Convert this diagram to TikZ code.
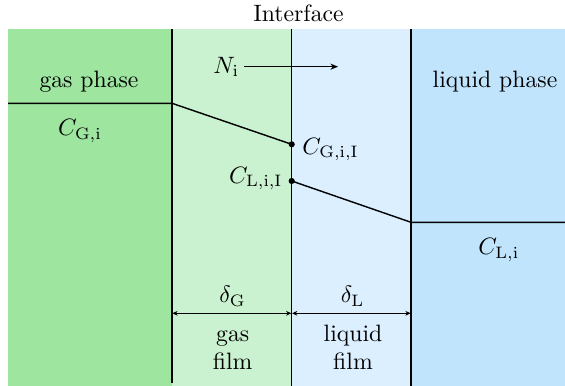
\documentclass[tikz,border=0pt]{standalone}
\usetikzlibrary{arrows.meta}
\definecolor{gasphase}{RGB}{158,230,160}
\definecolor{gasfilm}{RGB}{202,242,208}
\definecolor{liqfilm}{RGB}{220,239,255}
\definecolor{liqphase}{RGB}{192,228,252}
\tikzset{
  lbl/.style={inner sep=0pt, anchor=base},
  divider/.style={line width=0.55pt},
  profile/.style={line width=0.6pt},
  dimarrow/.style={line width=0.45pt, {Stealth[length=2.2pt,width=2pt]}-{Stealth[length=2.2pt,width=2pt]}},
  fluxarrow/.style={line width=0.6pt, -{Stealth[length=3.2pt,width=2.6pt]}},
}
\begin{document}
\begin{tikzpicture}[x=0.422pt, y=-0.422pt]
\useasboundingbox (0,0) rectangle (565,386);
% backgrounds
\fill[gasphase] (8,29) rectangle (172,386);
\fill[gasfilm] (172,29) rectangle (291.7,386);
\fill[liqfilm] (291.7,29) rectangle (411,386);
\fill[liqphase] (411,29) rectangle (565,386);
% dividers
\coordinate (d1t) at (172,29);
\coordinate (d1b) at (172,383.5);
\coordinate (d2t) at (291.7,29);
\coordinate (d2b) at (291.7,386);
\coordinate (d3t) at (411,29);
\coordinate (d3b) at (411,386);
\draw[divider] (d1t) -- (d1b);
\draw[divider] (d2t) -- (d2b);
\draw[divider] (d3t) -- (d3b);
% concentration profile
\coordinate (gA) at (8,103.3);
\coordinate (gB) at (172,103.3);
\coordinate (gI) at (291.7,144.3);
\coordinate (lI) at (291.7,181);
\coordinate (lB) at (411,222.3);
\coordinate (lA) at (565,222.3);
\draw[profile] (gA) -- (gB) -- (gI);
\draw[profile] (lI) -- (lB) -- (lA);
\fill (gI) circle[radius=1.3pt];
\fill (lI) circle[radius=1.3pt];
% labels
\node[lbl] (iface) at (298.5,21.5) {Interface};
\node[lbl] (gph) at (89,87.5) {gas phase};
\node[lbl] (lph) at (495,87.5) {liquid phase};
\node[lbl, anchor=base west] (Ni) at (213,73.3) {$N_{\mathrm{i}}$};
\coordinate (Nstart) at (244,66.7);
\coordinate (Nend) at (338,66.7);
\draw[fluxarrow] (Nstart) -- (Nend);
\node[lbl, anchor=base west] (CGiI) at (302,154.3) {$C_{\mathrm{G,i,I}}$};
\node[lbl, anchor=base east] (CLiI) at (283,183.3) {$C_{\mathrm{L,i,I}}$};
\node[lbl, anchor=base west] (CGi) at (57.6,136) {$C_{\mathrm{G,i}}$};
\node[lbl, anchor=base west] (CLi) at (478,255) {$C_{\mathrm{L,i}}$};
\node[lbl] (dG) at (232.5,303) {$\delta_{\mathrm{G}}$};
\node[lbl] (dL) at (352.5,303) {$\delta_{\mathrm{L}}$};
\coordinate (a1) at (172.4,313.3);
\coordinate (a2) at (291.3,313.3);
\coordinate (a3) at (292.1,313.3);
\coordinate (a4) at (410.6,313.3);
\draw[dimarrow] (a1) -- (a2);
\draw[dimarrow] (a3) -- (a4);
\node[lbl, align=center] (gfilm) at (232.7,370) {gas\\film};
\node[lbl, align=center] (lfilm) at (353,370) {liquid\\film};
\end{tikzpicture}
\end{document}
